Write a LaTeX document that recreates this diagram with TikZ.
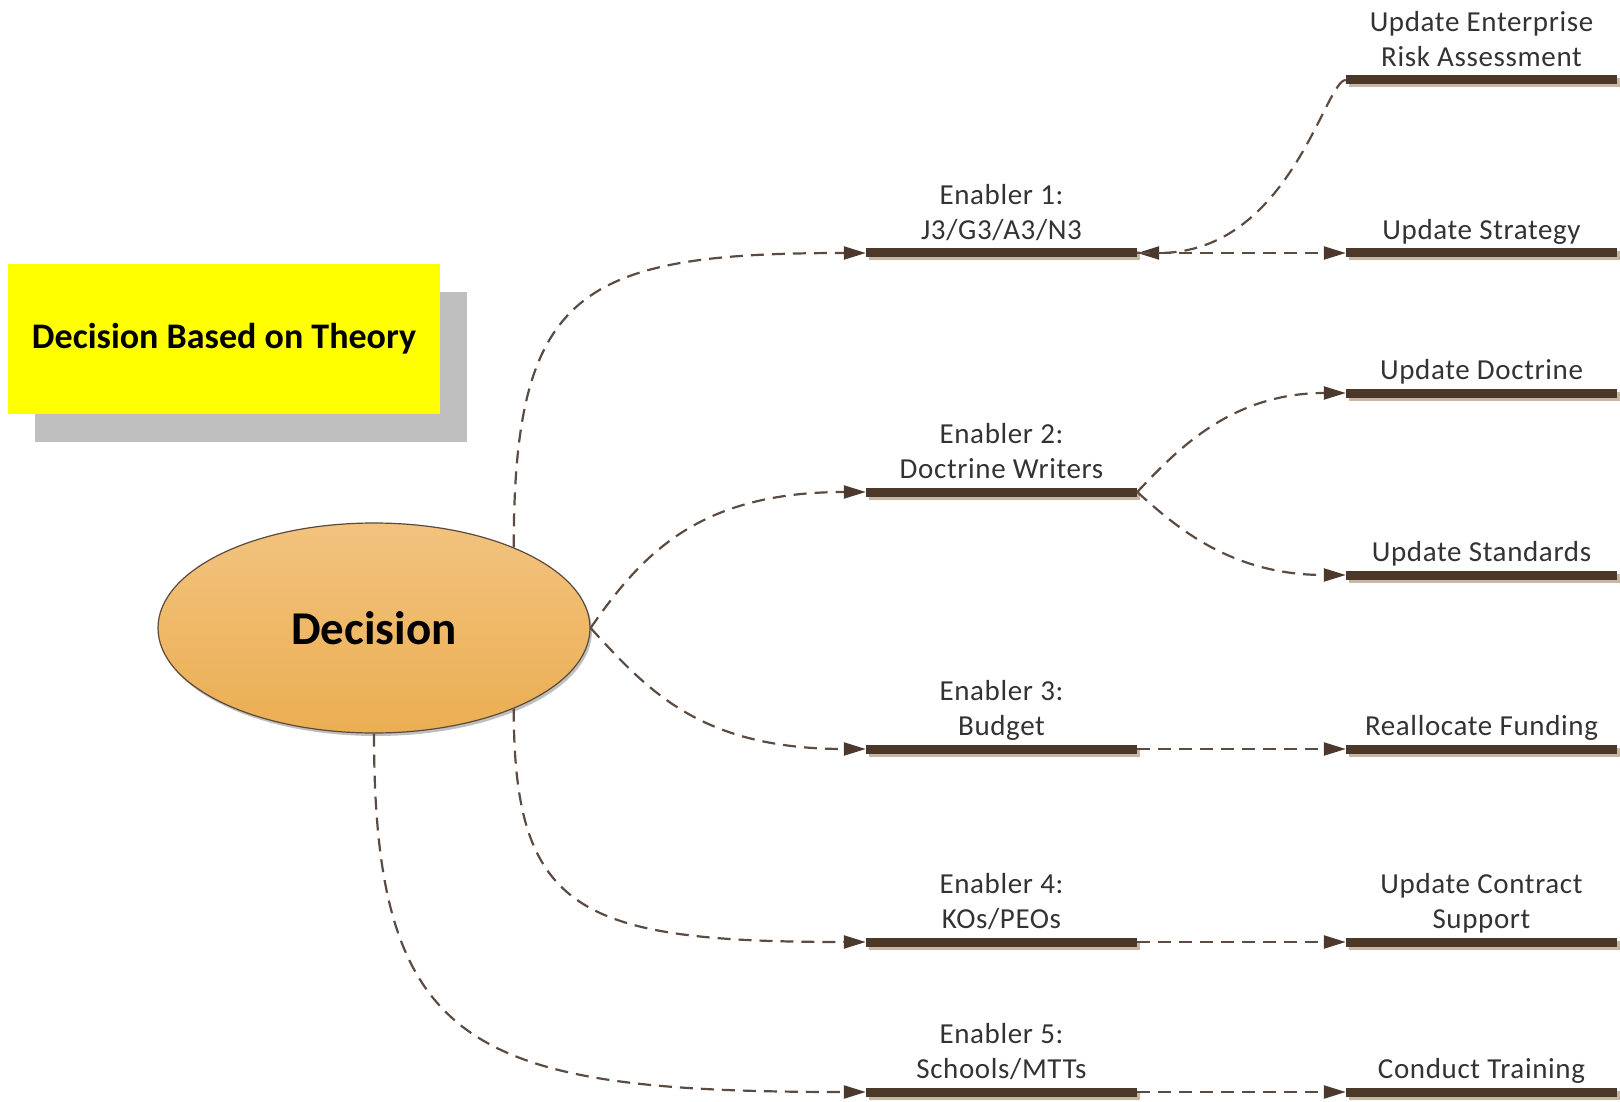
\documentclass[tikz,border=0pt]{standalone}
\usepackage{fontspec}
\setmainfont{Carlito}
\usetikzlibrary{arrows.meta,shadows,shapes.geometric}

\definecolor{barbrown}{HTML}{4B3829}
\definecolor{barshade}{HTML}{C8B6A4}
\definecolor{linkbrown}{HTML}{5C4B40}
\definecolor{tipbrown}{HTML}{4A392C}
\definecolor{labelgray}{HTML}{333333}
\definecolor{ovaltop}{HTML}{F2C37E}
\definecolor{ovalbottom}{HTML}{EBAE52}
\definecolor{ovalline}{HTML}{5A4A3E}
\definecolor{notefill}{HTML}{FFFF00}
\definecolor{noteshade}{HTML}{BFBFBF}

\begin{document}
\begin{tikzpicture}[x=1pt,y=-1pt,
  bar/.style={rectangle, inner sep=0pt, minimum width=271pt, minimum height=9pt,
    fill=barbrown,
    general shadow={fill=barshade, shadow xshift=3pt, shadow yshift=-3pt}},
  lbl/.style={anchor=south, inner sep=0pt, align=center, text=labelgray,
    font=\fontsize{29pt}{35pt}\selectfont\addfontfeatures{LetterSpace=2.2},
    execute at end node=\strut},
  link/.style={draw=linkbrown, line width=2.2pt, dash pattern=on 13pt off 8pt,
    -{Triangle[length=22pt,width=13pt,color=tipbrown,fill=tipbrown]}},
  note/.style={rectangle, fill=notefill, minimum width=432pt, minimum height=150pt,
    inner sep=0pt, font=\bfseries\fontsize{36pt}{42pt}\selectfont,
    general shadow={fill=noteshade, shadow xshift=27pt, shadow yshift=-27.5pt}},
  oval/.style={ellipse, minimum width=432pt, minimum height=210pt, inner sep=0pt,
    top color=ovaltop, bottom color=ovalbottom, draw=ovalline, line width=1.2pt,
    font=\bfseries\fontsize{47pt}{54pt}\selectfont,
    general shadow={fill=black!25, shadow xshift=2pt, shadow yshift=-3pt}},
]
\useasboundingbox (0,0) rectangle (1620,1102);

% title note and central decision
\node[note] (title) at (224,339) {Decision Based on Theory};
\node[oval] (dec) at (374,628) {Decision};

% enabler bars
\node[bar] (e1) at (1001.5,253) {};
\node[bar] (e2) at (1001.5,492) {};
\node[bar] (e3) at (1001.5,749) {};
\node[bar] (e4) at (1001.5,942) {};
\node[bar] (e5) at (1001.5,1092) {};

% outcome bars
\node[bar] (ura)  at (1481.5,80)   {};
\node[bar] (us)   at (1481.5,253)  {};
\node[bar] (ud)   at (1481.5,393)  {};
\node[bar] (ustd) at (1481.5,575)  {};
\node[bar] (rf)   at (1481.5,749)  {};
\node[bar] (ucs)  at (1481.5,942)  {};
\node[bar] (ct)   at (1481.5,1092) {};

% bar captions
\node[lbl] (e1t) at ([yshift=2.5pt]e1.center) {Enabler 1:\\J3/G3/A3/N3};
\node[lbl] (e2t) at ([yshift=2.5pt]e2.center) {Enabler 2:\\Doctrine Writers};
\node[lbl] (e3t) at ([yshift=2.5pt]e3.center) {Enabler 3:\\Budget};
\node[lbl] (e4t) at ([yshift=2.5pt]e4.center) {Enabler 4:\\KOs/PEOs};
\node[lbl] (e5t) at ([yshift=2.5pt]e5.center) {Enabler 5:\\Schools/MTTs};

\node[lbl] (urat)  at ([yshift=2.5pt]ura.center)  {Update Enterprise\\Risk Assessment};
\node[lbl] (ust)   at ([yshift=2.5pt]us.center)   {Update Strategy};
\node[lbl] (udt)   at ([yshift=2.5pt]ud.center)   {Update Doctrine};
\node[lbl] (ustdt) at ([yshift=2.5pt]ustd.center) {Update Standards};
\node[lbl] (rft)   at ([yshift=2.5pt]rf.center)   {Reallocate Funding};
\node[lbl] (ucst)  at ([yshift=2.5pt]ucs.center)  {Update Contract\\Support};
\node[lbl] (ctt)   at ([yshift=2.5pt]ct.center)   {Conduct Training};

% decision to enablers
\draw[link] (dec.30.6) .. controls +(0,-257) and +(-286,0) .. (e1.west);
\draw[link] (dec.east) .. controls +(52,-75) and +(-166,0) .. (e2.west);
\draw[link] (dec.east) .. controls +(57,62) and +(-166,0) .. (e3.west);
\draw[link] (dec.-30.6) .. controls +(0,204) and +(-286,0) .. (e4.west);
\draw[link] (dec.south) .. controls +(0,316) and +(-396,0) .. (e5.west);

% enablers to outcomes
\draw[link] (ura.west) .. controls +(-21,0) and +(153,0) .. (e1.east);
\draw[link] (e1.east) -- (us.west);
\draw[link] (e2.east) .. controls +(38,-40) and +(-116,0) .. (ud.west);
\draw[link] (e2.east) .. controls +(38,34) and +(-116,0) .. (ustd.west);
\draw[link] (e3.east) -- (rf.west);
\draw[link] (e4.east) -- (ucs.west);
\draw[link] (e5.east) -- (ct.west);
\end{tikzpicture}
\end{document}
